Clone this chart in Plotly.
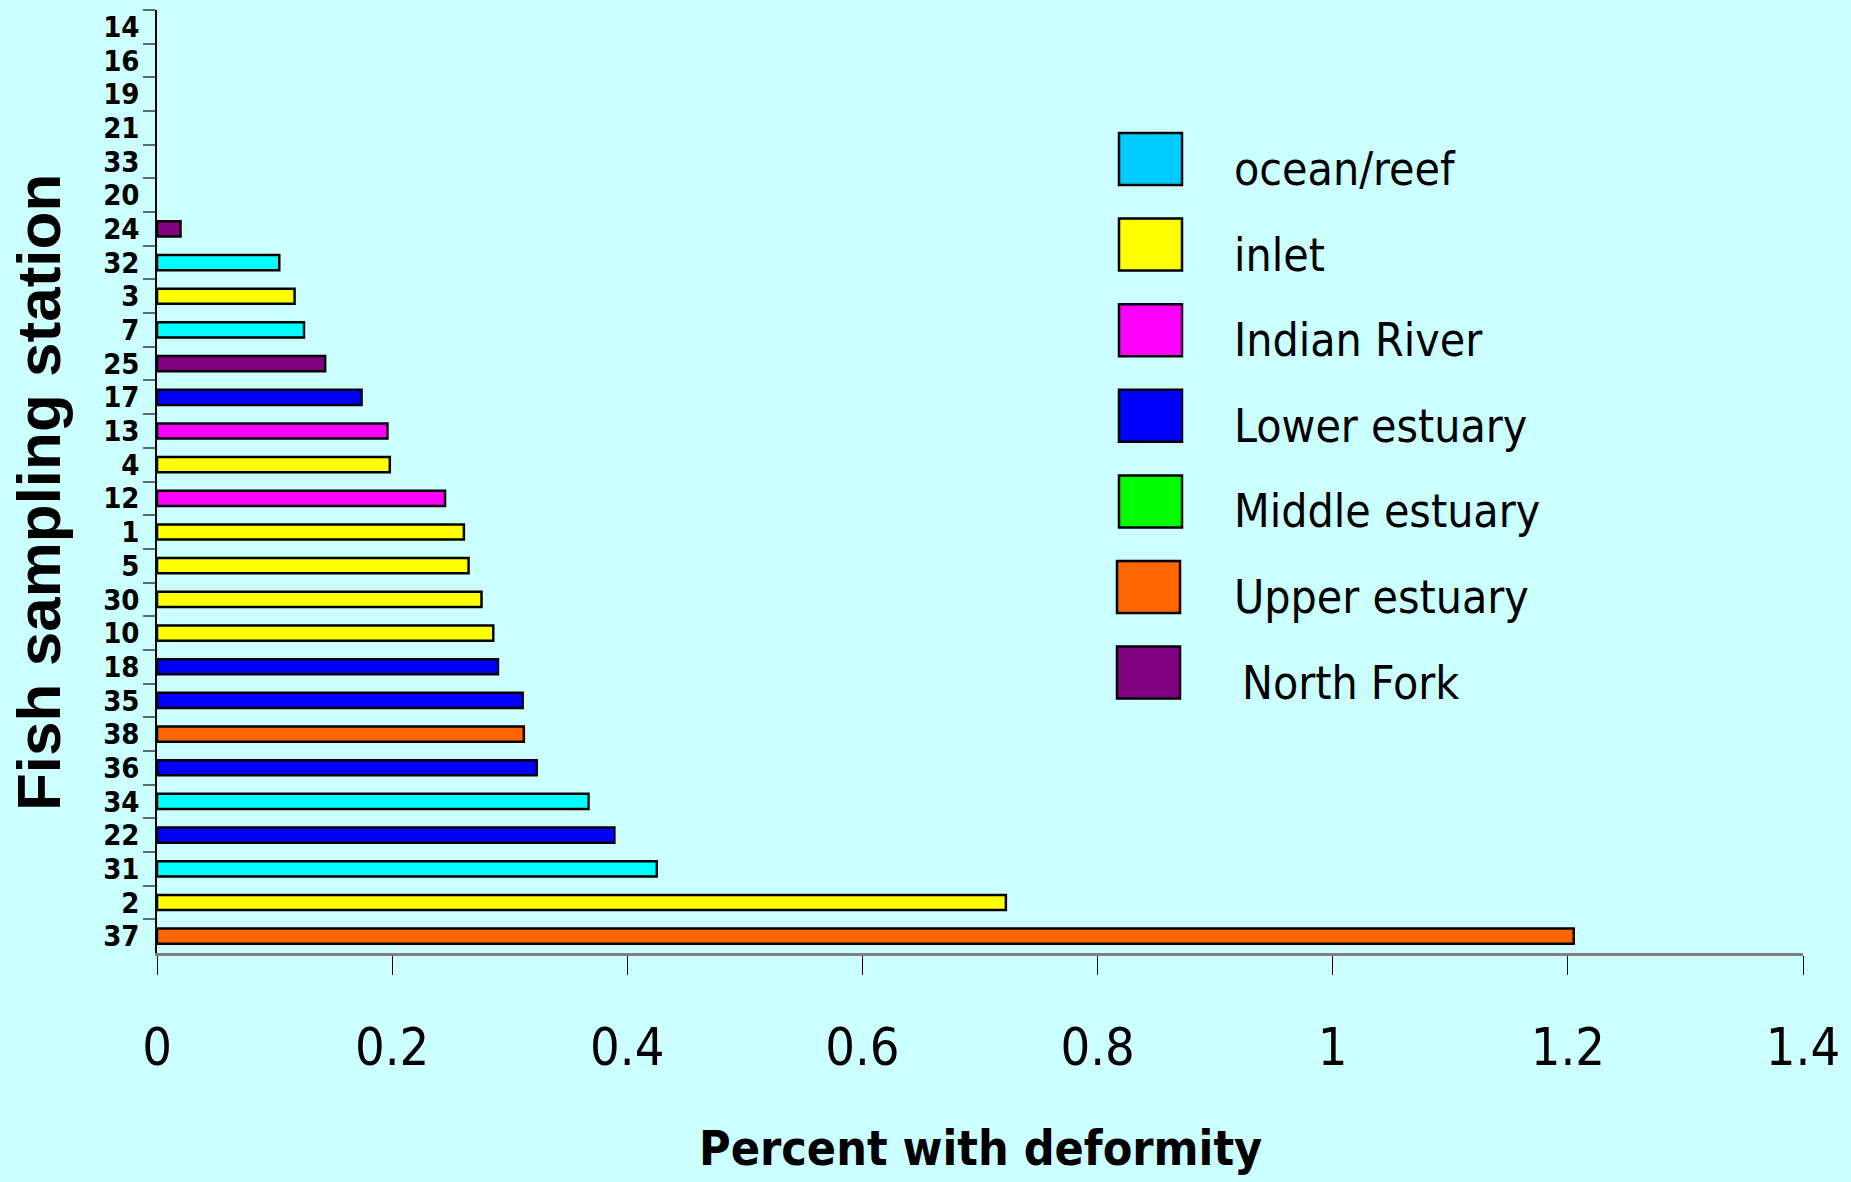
import plotly.graph_objects as go

# ---- data (top to bottom as in the chart) ----
stations = ["14", "16", "19", "21", "33", "20", "24", "32", "3", "7", "25", "17", "13", "4",
            "12", "1", "5", "30", "10", "18", "35", "38", "36", "34", "22", "31", "2", "37"]
pct_deformity = [0, 0, 0, 0, 0, 0, 0.020, 0.104, 0.117, 0.125, 0.143, 0.174, 0.196, 0.198,
                 0.245, 0.261, 0.265, 0.276, 0.286, 0.290, 0.311, 0.312, 0.323, 0.367, 0.389,
                 0.425, 0.722, 1.205]
habitat = [None, None, None, None, None, None, "North Fork", "ocean/reef", "inlet", "ocean/reef",
           "North Fork", "Lower estuary", "Indian River", "inlet", "Indian River", "inlet", "inlet",
           "inlet", "inlet", "Lower estuary", "Lower estuary", "Upper estuary", "Lower estuary",
           "ocean/reef", "Lower estuary", "ocean/reef", "inlet", "Upper estuary"]

legend_names = ["ocean/reef", "inlet", "Indian River", "Lower estuary", "Middle estuary",
                "Upper estuary", "North Fork"]
legend_colors = ["#00CCFF", "#FFFF00", "#FF00FF", "#0000FF", "#00FF00", "#FF6600", "#800080"]
bar_colors_map = {"ocean/reef": "#00FFFF", "inlet": "#FFFF00", "Indian River": "#FF00FF",
                  "Lower estuary": "#0000FF", "Middle estuary": "#00FF00",
                  "Upper estuary": "#FF6600", "North Fork": "#800080"}
x_ticks = [0, 0.2, 0.4, 0.6, 0.8, 1, 1.2, 1.4]
x_tick_text = ["0", "0.2", "0.4", "0.6", "0.8", "1", "1.2", "1.4"]

NARROW = "DejaVu Sans Condensed, Liberation Sans Narrow, Arial Narrow, sans-serif"
ARIAL = "Liberation Sans, Arial, sans-serif"
BG = "#CCFFFF"

W, H = 1851, 1182
L, R, T, B = 157, 48, 10, 229
PW, PH = W - L - R, H - T - B


def px_x(x):
    return (x - L) / PW


def px_y(y):
    return (H - B - y) / PH


bar_colors = [bar_colors_map.get(h, "#FFFFFF") for h in habitat]
bar_line_w = [2.5 if v > 0 else 0 for v in pct_deformity]

fig = go.Figure()
fig.add_trace(go.Bar(
    x=pct_deformity, y=stations, orientation="h",
    marker=dict(color=bar_colors, line=dict(color="#000000", width=bar_line_w)),
    width=0.45, showlegend=False, hoverinfo="x+y",
))

shapes = []
annotations = []
# manual legend with large swatches
sw_x0, sw_x1 = 1119, 1182
row0, step, sw_h = 159, 85.6, 52
for i, (name, col) in enumerate(zip(legend_names, legend_colors)):
    cy = row0 + i * step
    dx = -2 if i >= 5 else 0
    shapes.append(dict(type="rect", xref="paper", yref="paper",
                       x0=px_x(sw_x0 + dx), x1=px_x(sw_x1 + dx),
                       y0=px_y(cy + sw_h / 2), y1=px_y(cy - sw_h / 2),
                       fillcolor=col, line=dict(color="#000000", width=2.5)))
    tx = 1240 if name == "North Fork" else 1232
    annotations.append(dict(xref="paper", yref="paper", x=px_x(tx), y=px_y(cy + 10),
                            xanchor="left", yanchor="middle", showarrow=False,
                            text=name, font=dict(family=NARROW, size=46, color="#000000")))

annotations.append(dict(xref="paper", yref="paper", x=px_x(980), y=px_y(1148),
                        xanchor="center", yanchor="middle", showarrow=False,
                        text="<b>Percent with deformity</b>",
                        font=dict(family=NARROW, size=48, color="#000000")))
annotations.append(dict(xref="paper", yref="paper", x=px_x(38), y=px_y(493),
                        xanchor="center", yanchor="middle", showarrow=False, textangle=-90,
                        text="<b>Fish sampling station</b>",
                        font=dict(family=ARIAL, size=62, color="#000000")))

fig.update_layout(
    width=W, height=H,
    margin=dict(l=L, r=R, t=T, b=B, autoexpand=False),
    paper_bgcolor=BG, plot_bgcolor=BG,
    shapes=shapes, annotations=annotations,
    bargap=0.55,
)
fig.update_xaxes(
    range=[0, 1.4], tickvals=x_ticks, ticktext=x_tick_text,
    showgrid=False, zeroline=False,
    showline=True, linecolor="#808080", linewidth=2.5,
    ticks="outside", ticklen=19, tickwidth=1, tickcolor="#000000",
    ticklabelstandoff=28,
    tickfont=dict(family=NARROW, size=52, color="#000000"),
)
fig.update_yaxes(
    type="category", categoryorder="array", categoryarray=stations,
    range=[len(stations) - 0.5, -0.5],
    tickmode="linear", tick0=0, dtick=1,
    showgrid=False, zeroline=False,
    showline=True, linecolor="#000000", linewidth=1.5,
    ticks="outside", tickson="boundaries", ticklen=12, tickwidth=1.5, tickcolor="#5A6B6B",
    ticklabelstandoff=10,
    tickfont=dict(family=NARROW, size=29, color="#000000", weight="bold"),
)

fig.write_html("out.html")
